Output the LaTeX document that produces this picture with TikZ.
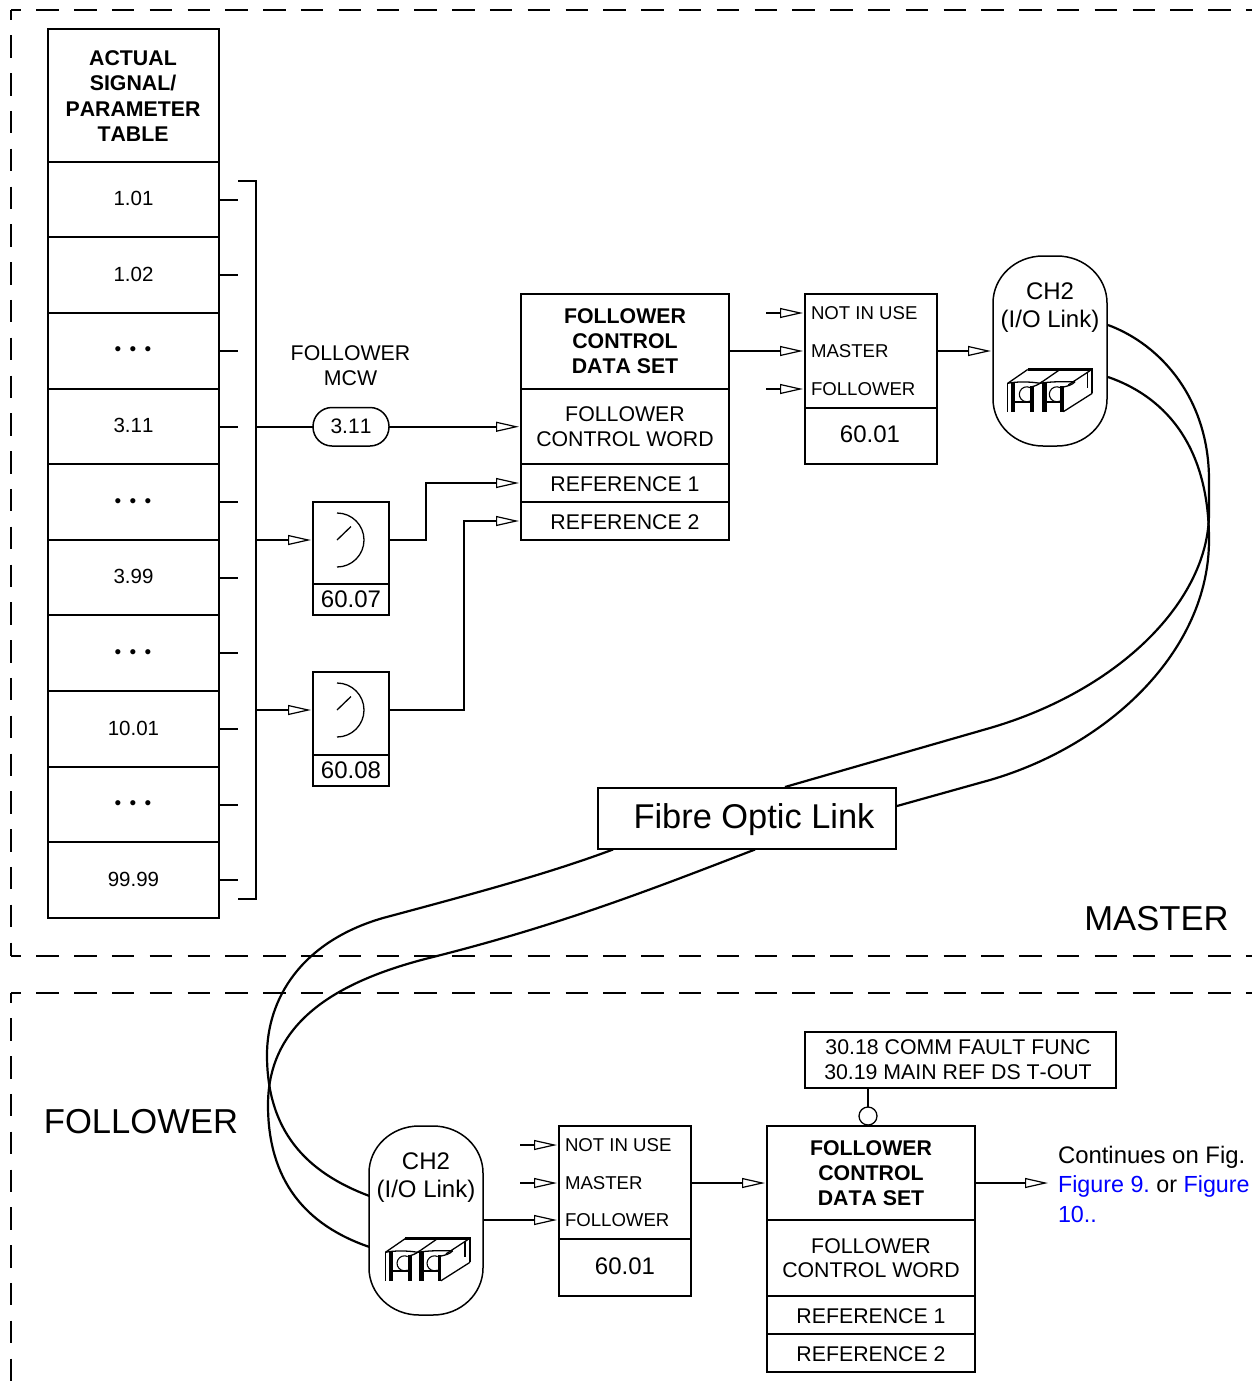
\documentclass[tikz,border=0pt]{standalone}
\usepackage{fontspec}
\setmainfont[Kerning=Off]{Liberation Sans}
\usetikzlibrary{arrows.meta,calc}
\definecolor{linkblue}{RGB}{0,0,255}
\newcommand{\fsz}[2]{\fontsize{#1}{#2}\selectfont}
\newcommand{\bx}[7]{\node[#6,minimum width={#4-#2},minimum height={#5-#3}] (#1) at ({(#2+#4)/2},{(#3+#5)/2}) {#7};}
\newcommand{\lift}[2]{\raisebox{#1}[\height][\depth]{#2}}
\newcommand{\capoutline}[1]{%
  \draw[line width=1.5pt,fill=white] ($(#1.north west)+(0,47)$)
    arc[start angle=180,end angle=90,x radius=50pt,y radius=47pt]
    -- ($(#1.north east)+(-50,0)$)
    arc[start angle=90,end angle=0,x radius=50pt,y radius=47pt]
    -- ($(#1.south east)+(0,-47)$)
    arc[start angle=0,end angle=-90,x radius=50pt,y radius=47pt]
    -- ($(#1.south west)+(50,0)$)
    arc[start angle=-90,end angle=-180,x radius=50pt,y radius=47pt]
    -- cycle;}
\tikzset{
  ln/.style={line width=2pt,black},
  arr/.style={line width=2pt,black,shorten >=2pt,-{Triangle[open,length=23pt,width=10pt,line width=1.2pt]}},
  cell/.style={draw,line width=2pt,fill=white,inner sep=0pt,outer sep=0pt,align=center},
  boxn/.style={cell,font=\fsz{21.3}{24.4}},
  boldn/.style={cell,font=\fsz{21.3}{25}\bfseries},
  numn/.style={cell,font=\fsz{24}{28}},
  rown/.style={cell,font=\fsz{20.5}{24}},
  txt/.style={inner sep=0pt,outer sep=0pt,align=center},
  sellbl/.style={txt,anchor=west,font=\fsz{18.6}{22}},
  capsule/.style={inner sep=0pt,outer sep=0pt},
  pill/.style={draw,line width=1.5pt,fill=white,inner sep=0pt,outer sep=0pt,rounded corners=19pt,font=\fsz{21}{24}},
  dashln/.style={line width=2pt,black,dash pattern=on 22.5pt off 15.3pt,dash phase=12.5pt},
  fibre/.style={line width=2.2pt,black},
  fconn/.pic={
    \draw[line width=2.2pt,line join=miter] (60,7.5) -- (92.3,7.5) -- (92.3,31.3);
    \draw[line width=2.2pt] (27.7,7.5) -- (60,7.5);
    \draw[line width=1.3pt] (7.7,21.3) -- (27.7,7.5);
    \draw[line width=1.3pt] (40,21.3) -- (60,7.5);
    \draw[line width=1.3pt] (68.3,22.9) -- (90,8.7);
    \draw[line width=1.3pt] (92.3,31.3) -- (63.3,49.7);
    \draw[line width=1.3pt] (7.7,21.3) .. controls (16,19.5) and (30,19.5) .. (40,21.3) .. controls (50,19.5) and (65,19.5) .. (75,19.8);
    \draw[line width=1.3pt] (75,19.8) .. controls (72,23) and (68,24) .. (63.3,25);
    \draw[line width=1.3pt] (42,19.8) .. controls (38,23) and (35,24) .. (31,25);
    \draw[line width=1.5pt] (7.7,21.3) -- (7.7,49.7);
    \fill (10.8,21) rectangle (15,49.7);
    \fill (30,24) rectangle (34.3,49.7);
    \fill (41.7,21) rectangle (46.7,49.7);
    \fill (60,24) rectangle (63.5,49.7);
    \draw[line width=2pt] (15,39.5) -- (30,39.5);
    \draw[line width=2pt] (46.7,39.5) -- (60,39.5);
    \draw[line width=1.1pt] (30,25.5) arc[start angle=65,end angle=295,radius=7.5pt];
    \draw[line width=1.1pt] (60,25.5) arc[start angle=65,end angle=295,radius=7.5pt];
    \draw[line width=1.5pt] (87.3,11.3) -- (87.3,26);
  },
  dialmark/.pic={
    \draw[line width=1.3pt] (0,-27) arc[start angle=90,end angle=-90,radius=27pt];
    \draw[line width=1.3pt] (0,0) -- (14,-13.5);
  }
}
\begin{document}
\begin{tikzpicture}[x=1pt,y=-1pt]
\useasboundingbox (0,0) rectangle (1252,1389);
% dashed frames
\coordinate (mTL) at (11,10); \coordinate (mTR) at (1252,10);
\coordinate (mBL) at (11,956); \coordinate (mBR) at (1252,956);
\coordinate (fTL) at (11,993); \coordinate (fTR) at (1252,993); \coordinate (fBL) at (11,1389);
\draw[dashln] (mTL) -- (mTR);
\draw[dashln] (mTL) -- (mBL);
\draw[dashln] (mBL) -- (mBR);
\draw[dashln] (fTL) -- (fTR);
\draw[dashln] (fTL) -- (fBL);
% table
\bx{head}{48}{29}{219}{162}{boldn}{}
\node[txt,font=\fsz{21.3}{25.3}\bfseries] (headT) at (133,96) {ACTUAL\\SIGNAL/\\PARAMETER\\TABLE};
\bx{r1}{48}{162}{219}{237}{rown}{\lift{1pt}{1.01}}
\bx{r2}{48}{237}{219}{313}{rown}{\lift{1pt}{1.02}}
\bx{r3}{48}{313}{219}{389}{rown}{}
\bx{r4}{48}{389}{219}{464}{rown}{\lift{1pt}{3.11}}
\bx{r5}{48}{464}{219}{540}{rown}{}
\bx{r6}{48}{540}{219}{615}{rown}{\lift{1pt}{3.99}}
\bx{r7}{48}{615}{219}{691}{rown}{}
\bx{r8}{48}{691}{219}{767}{rown}{\lift{1pt}{10.01}}
\bx{r9}{48}{767}{219}{842}{rown}{}
\bx{r10}{48}{842}{219}{918}{rown}{\lift{1pt}{99.99}}
\foreach \n/\yy in {d3/351,d5/503,d7/654,d9/805}
  \node[txt,font=\fsz{19}{22}] (\n) at (133,\yy) {•\hspace{8.4pt}•\hspace{8.4pt}•};
% bracket
\coordinate (brT) at (238,181); \coordinate (brTc) at (256,181);
\coordinate (brB) at (238,899); \coordinate (brBc) at (256,899);
\draw[ln] (brT) -- (brTc) -- (brBc) -- (brB);
\foreach \r in {r1,r2,r3,r4,r5,r6,r7,r8,r9,r10}
  \draw[ln] (\r.east) -- ++(19,0);
% follower mcw
\node[txt,font=\fsz{21.3}{25}] (mcw) at (350.5,366) {FOLLOWER\\MCW};
\bx{pil}{313}{407.5}{389}{446}{pill}{3.11}
% dials
\bx{dialA}{313}{502}{389}{584}{boxn}{}
\bx{dialAn}{313}{584}{389}{615}{numn}{60.07}
\bx{dialB}{313}{672}{389}{755}{boxn}{}
\bx{dialBn}{313}{755}{389}{786}{numn}{60.08}
\pic at (337,540) {dialmark};
\pic at (337,710) {dialmark};
% master block
\bx{mT}{521}{294}{729}{389}{boldn}{FOLLOWER\\CONTROL\\DATA SET}
\bx{mC}{521}{389}{729}{464}{boxn}{FOLLOWER\\CONTROL WORD}
\bx{mR1}{521}{464}{729}{502}{boxn}{\lift{-1pt}{REFERENCE 1}}
\bx{mR2}{521}{502}{729}{540}{boxn}{\lift{-1pt}{REFERENCE 2}}
% connectors left
\coordinate (j311) at (256,426.75);
\coordinate (jA) at (256,540);
\coordinate (jB) at (256,710);
\coordinate (outA) at (389,540);
\coordinate (outB) at (389,710);
\draw[ln] (j311) -- (pil.west);
\draw[arr] (pil.east) -- (mC.west |- pil.east);
\draw[arr] (jA) -- (dialA.west |- jA);
\draw[arr] (jB) -- (dialB.west |- jB);
\draw[arr] (outA) -- (426,540) |- (mR1.west);
\draw[arr] (outB) -- (464,710) |- (mR2.west);
% master selector
\bx{mS}{805}{294}{937}{408}{boxn}{}
\bx{mN}{805}{408}{937}{464}{numn}{\lift{2pt}{60.01\kern2pt}}
\node[sellbl] (mS1) at (811,313.5) {NOT IN USE};
\node[sellbl] (mS2) at (811,351.5) {MASTER};
\node[sellbl] (mS3) at (811,389) {FOLLOWER};
\coordinate (mIn1) at (766,313); \coordinate (mIn3) at (766,389);
\coordinate (mOut) at (729,351);
\draw[arr] (mIn1) -- (mS.west |- mIn1);
\draw[arr] (mOut) -- (mS.west |- mOut);
\draw[arr] (mIn3) -- (mS.west |- mIn3);
% master capsule
\bx{capM}{993}{256}{1107}{446}{capsule}{}
\capoutline{capM}
\node[txt,font=\fsz{24}{28}] (capMt) at (1050,308) {CH2\\(I/O Link)};
\pic at (1000,362) {fconn};
\coordinate (mSo) at (937,351);
\draw[arr] (mSo) -- (capM.west |- mSo);
% fibre box
\bx{fib}{598}{788}{896}{849}{cell,font=\fsz{34.4}{40}}{\lift{-1pt}{\hspace*{14pt}Fibre Optic Link}}
% fibre curves
\coordinate (a0) at (1108,325); \coordinate (a1) at (785,787);
\coordinate (b0) at (1108,377); \coordinate (b1) at (897,806);
\coordinate (c0) at (613,849.5); \coordinate (c1) at (369.5,1196);
\coordinate (d0) at (755,849.5); \coordinate (d1) at (369.5,1247);
\draw[fibre] (a0) .. controls (1162,345) and (1209,400) .. (1209,480) -- (1209,513)
  .. controls (1209,600) and (1120,690) .. (990,728) -- (a1);
\draw[fibre] (b0) .. controls (1160,395) and (1209,440) .. (1209,540)
  .. controls (1209,650) and (1110,745) .. (990,780) -- (b1);
\draw[fibre] (c0) .. controls (550,873) and (480,892) .. (383,918)
  .. controls (300,942) and (267,1000) .. (267,1055)
  .. controls (267,1130) and (305,1172) .. (c1);
\draw[fibre] (d0) .. controls (650,890) and (560,925) .. (433,957)
  .. controls (340,980) and (268,1020) .. (268,1105)
  .. controls (268,1180) and (305,1225) .. (d1);
% region labels
\node[txt,font=\fsz{34.6}{40}] (lblM) at (1156.5,918.5) {MASTER};
\node[txt,font=\fsz{34.6}{40}] (lblF) at (141,1122) {FOLLOWER};
% follower capsule
\bx{capF}{369}{1126}{483}{1315}{capsule}{}
\capoutline{capF}
\node[txt,font=\fsz{24}{27.5}] (capFt) at (426,1177.5) {CH2\\(I/O Link)};
\pic at (377.7,1231) {fconn};
% follower selector
\bx{fS}{559}{1126}{691}{1239}{boxn}{}
\bx{fN}{559}{1239}{691}{1296}{numn}{\lift{1pt}{60.01}}
\node[sellbl] (fS1) at (565,1145.5) {NOT IN USE};
\node[sellbl] (fS2) at (565,1183.5) {MASTER};
\node[sellbl] (fS3) at (565,1220.5) {FOLLOWER};
\coordinate (fIn1) at (520,1145); \coordinate (fIn2) at (520,1183); \coordinate (fIn3) at (483,1220);
\draw[arr] (fIn1) -- (fS.west |- fIn1);
\draw[arr] (fIn2) -- (fS.west |- fIn2);
\draw[arr] (fIn3) -- (fS.west |- fIn3);
% follower block
\bx{fT}{767}{1126}{975}{1220}{boldn}{FOLLOWER\\CONTROL\\DATA SET}
\bx{fC}{767}{1220}{975}{1296}{boxn}{FOLLOWER\\CONTROL WORD}
\bx{fR1}{767}{1296}{975}{1334}{boxn}{\lift{-1pt}{REFERENCE 1}}
\bx{fR2}{767}{1334}{975}{1372}{boxn}{\lift{-1pt}{REFERENCE 2}}
\coordinate (fSo) at (691,1183);
\draw[arr] (fSo) -- (fT.west |- fSo);
% param box
\bx{par}{805}{1032}{1116}{1088}{cell,line width=1.5pt}{}
\node[txt,font=\fsz{21.3}{25}] (parT) at (958,1059.5) {30.18 COMM FAULT FUNC\\30.19 MAIN REF DS T-OUT};
\node[draw,circle,line width=1.3pt,fill=white,minimum size=18pt,inner sep=0pt,outer sep=0pt] (lnk) at (868,1116) {};
\coordinate (parB) at (868,1088);
\draw[line width=1.5pt] (parB) -- (lnk.north);
% continues
\coordinate (fTo) at (975,1183);
\coordinate (contEnd) at (1050,1183);
\draw[arr] (fTo) -- (contEnd);
\node[txt,anchor=north west,align=left,font=\fsz{23.3}{29.5}\frenchspacing] (cont) at (1058,1146) {{\fsz{23.9}{29.5}Continues on Fig.}\\\textcolor{linkblue}{Figure 9.} or \textcolor{linkblue}{Figure}\\\textcolor{linkblue}{10..}};
\end{tikzpicture}
\end{document}
